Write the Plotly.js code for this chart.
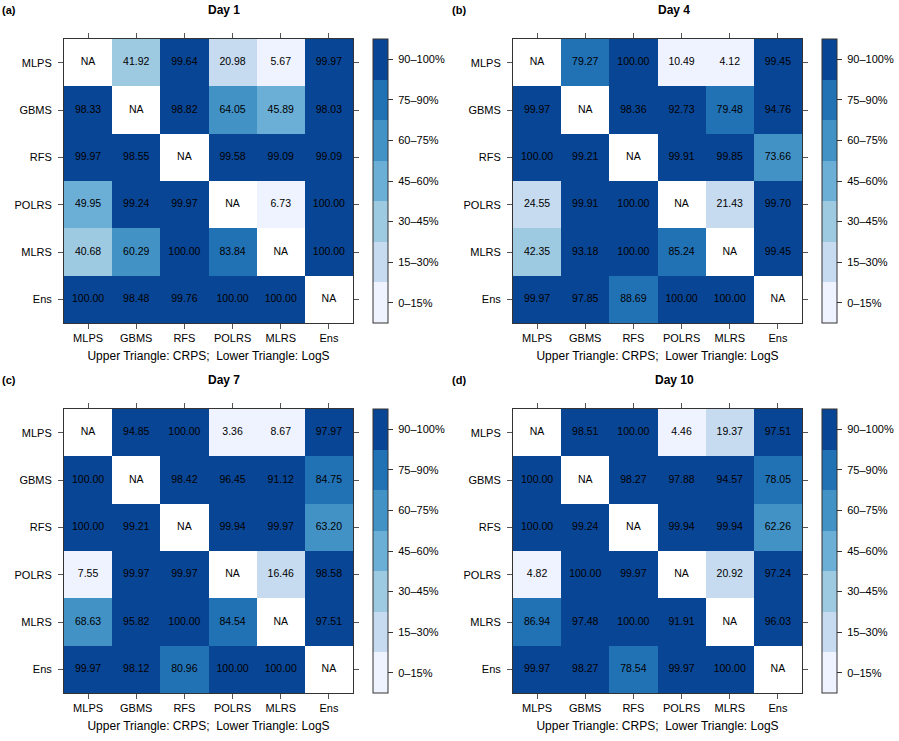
<!DOCTYPE html>
<html>
<head>
<meta charset="utf-8">
<script src="https://cdn.plot.ly/plotly-3.0.1.min.js"></script>
<style>
  html, body { margin: 0; padding: 0; background: #fff; }
  #chart { width: 899px; height: 741px; }
</style>
</head>
<body>
<div id="chart"></div>
<script>
// model labels (rows and columns)
const models = ['MLPS', 'GBMS', 'RFS', 'POLRS', 'MLRS', 'Ens'];

// percentages per panel, row by row (null = NA on the diagonal)
const day1 = [
  [null, 41.92, 99.64, 20.98, 5.67, 99.97],
  [98.33, null, 98.82, 64.05, 45.89, 98.03],
  [99.97, 98.55, null, 99.58, 99.09, 99.09],
  [49.95, 99.24, 99.97, null, 6.73, 100.00],
  [40.68, 60.29, 100.00, 83.84, null, 100.00],
  [100.00, 98.48, 99.76, 100.00, 100.00, null]
];
const day4 = [
  [null, 79.27, 100.00, 10.49, 4.12, 99.45],
  [99.97, null, 98.36, 92.73, 79.48, 94.76],
  [100.00, 99.21, null, 99.91, 99.85, 73.66],
  [24.55, 99.91, 100.00, null, 21.43, 99.70],
  [42.35, 93.18, 100.00, 85.24, null, 99.45],
  [99.97, 97.85, 88.69, 100.00, 100.00, null]
];
const day7 = [
  [null, 94.85, 100.00, 3.36, 8.67, 97.97],
  [100.00, null, 98.42, 96.45, 91.12, 84.75],
  [100.00, 99.21, null, 99.94, 99.97, 63.20],
  [7.55, 99.97, 99.97, null, 16.46, 98.58],
  [68.63, 95.82, 100.00, 84.54, null, 97.51],
  [99.97, 98.12, 80.96, 100.00, 100.00, null]
];
const day10 = [
  [null, 98.51, 100.00, 4.46, 19.37, 97.51],
  [100.00, null, 98.27, 97.88, 94.57, 78.05],
  [100.00, 99.24, null, 99.94, 99.94, 62.26],
  [4.82, 100.00, 99.97, null, 20.92, 97.24],
  [86.94, 97.48, 100.00, 91.91, null, 96.03],
  [99.97, 98.27, 78.54, 99.97, 100.00, null]
];

const panelTitles = ['Day 1', 'Day 4', 'Day 7', 'Day 10'];
const panelTags = ['(a)', '(b)', '(c)', '(d)'];

// colour classes
const breaks = [0, 15, 30, 45, 60, 75, 90, 100];
const binLabels = ['0–15%', '15–30%', '30–45%', '45–60%', '60–75%', '75–90%', '90–100%'];
const binColors = ['#eff3ff', '#c6dbef', '#9ecae1', '#6baed6', '#4292c6', '#2171b5', '#084594'];

const W = 899, H = 741;
const FONT = 'Liberation Sans, Arial, Helvetica, sans-serif';

function binOf(v) {
  if (v === null) return null;
  for (let k = 0; k < binLabels.length; ++k) {
    if (v < breaks[k + 1]) return k;
  }
  return binLabels.length - 1;
}

const colorscale = [];
binColors.forEach(function (c, k) {
  colorscale.push([k / binColors.length, c]);
  colorscale.push([(k + 1) / binColors.length, c]);
});

// panel geometry in pixels: left/top of plot area
const plotW = 289, plotH = 284;
const origins = [[64, 39], [513, 39], [64, 409], [513, 409]];

const panels = [day1, day4, day7, day10];
const data = [];
const layout = {
  width: W, height: H,
  margin: {l: 0, r: 0, t: 0, b: 0},
  paper_bgcolor: '#fff',
  plot_bgcolor: '#fff',
  font: {family: FONT, size: 11, color: '#000'},
  showlegend: false,
  annotations: []
};

panels.forEach(function (vals, p) {
  const sx = p === 0 ? '' : String(p + 1);
  const x0 = origins[p][0], y0 = origins[p][1];

  data.push({
    type: 'heatmap',
    x: models, y: models,
    z: vals.map(function (row) { return row.map(binOf); }),
    zmin: -0.5, zmax: binLabels.length - 0.5,
    colorscale: colorscale,
    xaxis: 'x' + sx, yaxis: 'y' + sx,
    hoverinfo: 'skip',
    colorbar: {
      x: (x0 + plotW + 20) / W, xanchor: 'left', xref: 'paper',
      y: 1 - (y0 + plotH / 2) / H, yanchor: 'middle', yref: 'paper',
      len: plotH, lenmode: 'pixels',
      thickness: 15, thicknessmode: 'pixels',
      xpad: 0, ypad: 0,
      outlinewidth: 1, outlinecolor: '#333',
      tickmode: 'array',
      tickvals: binLabels.map(function (_, k) { return k; }),
      ticktext: binLabels.map(function (s) { return '\u00a0' + s; }),
      ticks: 'outside', ticklen: 5, tickcolor: '#333',
      tickfont: {family: FONT, size: 11, color: '#000'}
    }
  });

  // cell labels
  const tx = [], ty = [], tt = [];
  vals.forEach(function (row, i) {
    row.forEach(function (v, j) {
      tx.push(models[j]);
      ty.push(models[i]);
      tt.push(v === null ? 'NA' : v.toFixed(2));
    });
  });
  data.push({
    type: 'scatter', mode: 'text',
    x: tx, y: ty, text: tt,
    textfont: {family: FONT, size: 10.5, color: '#000'},
    xaxis: 'x' + sx, yaxis: 'y' + sx,
    hoverinfo: 'skip'
  });

  const common = {
    showline: true, linecolor: '#333', linewidth: 1,
    mirror: 'ticks', ticks: 'outside', ticklen: 5, tickcolor: '#555',
    showgrid: false, zeroline: false, fixedrange: true,
    tickfont: {family: FONT, size: 11, color: '#000'}
  };
  layout['xaxis' + sx] = Object.assign({}, common, {
    domain: [x0 / W, (x0 + plotW) / W],
    anchor: 'y' + sx,
    type: 'category',
    title: {
      text: 'Upper Triangle: CRPS;\u00a0 Lower Triangle: LogS',
      font: {family: FONT, size: 12, color: '#000'},
      standoff: 8
    }
  });
  layout['yaxis' + sx] = Object.assign({}, common, {
    domain: [1 - (y0 + plotH) / H, 1 - y0 / H],
    anchor: 'x' + sx,
    type: 'category',
    autorange: 'reversed',
    ticklabelstandoff: 4
  });

  const px = p % 2 === 0 ? 0 : 450;
  layout.annotations.push({
    text: '<b>' + panelTitles[p] + '</b>',
    xref: 'paper', yref: 'paper',
    x: (px + 224) / W, y: 1 - (y0 - 29) / H,
    xanchor: 'center', yanchor: 'middle',
    showarrow: false,
    font: {family: FONT, size: 12, color: '#000'}
  });
  layout.annotations.push({
    text: '<b>' + panelTags[p] + '</b>',
    xref: 'paper', yref: 'paper',
    x: px / W, y: 1 - (y0 - 29) / H,
    xanchor: 'left', yanchor: 'middle',
    showarrow: false,
    font: {family: FONT, size: 11, color: '#000'}
  });
});

Plotly.newPlot('chart', data, layout, {staticPlot: true});
</script>
</body>
</html>
